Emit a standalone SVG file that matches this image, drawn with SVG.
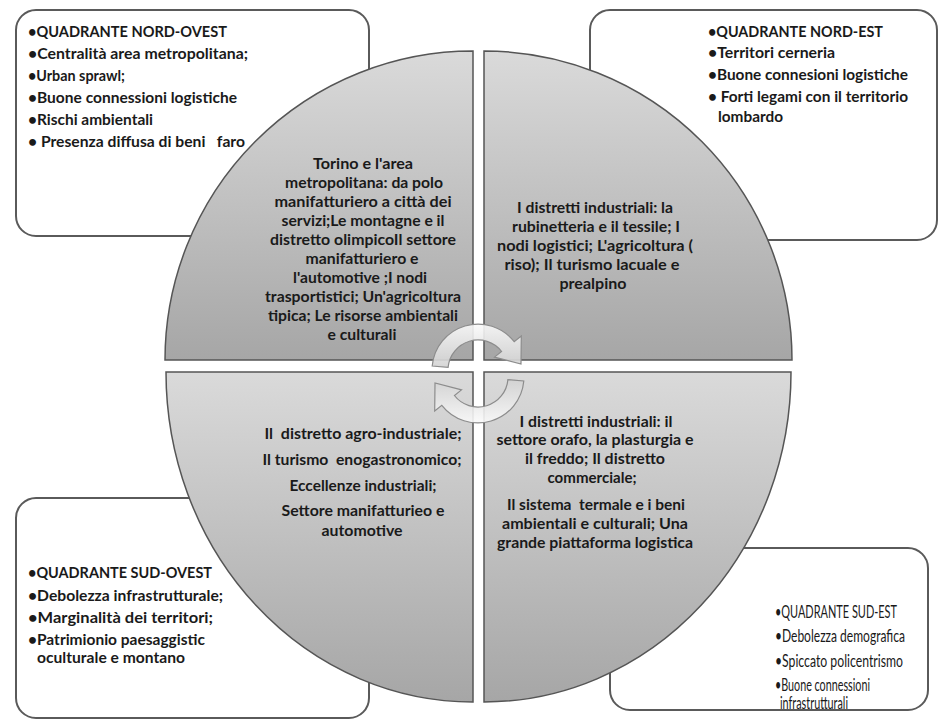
<svg xmlns="http://www.w3.org/2000/svg" width="943" height="720" viewBox="0 0 943 720">
<style>
.box{fill:#fff;stroke:#5a5a5a;stroke-width:2}
.quad{fill:url(#qg);stroke:#555;stroke-width:1.5}
.t{font-family:Lato,"Liberation Sans",sans-serif;font-weight:700;font-size:16px;fill:#1a1a1a}
.q{font-size:15.5px}
.r{font-weight:400;font-size:16.5px}
.m{text-anchor:middle}
.arr{fill:url(#ag);stroke:#8c8c8c;stroke-width:1.2;fill-opacity:0.9}
</style>
<defs>
<linearGradient id="qg" x1="0" y1="0" x2="0" y2="1">
<stop offset="0" stop-color="#dadada"/>
<stop offset="1" stop-color="#a6a6a6"/>
</linearGradient>
<linearGradient id="ag" x1="0" y1="0" x2="0" y2="1">
<stop offset="0" stop-color="#fafafa"/>
<stop offset="1" stop-color="#d2d2d2"/>
</linearGradient>
</defs>
<rect width="943" height="720" fill="#fff"/>

<g id="box-nw">
<rect class="box" x="16" y="10" width="353" height="226" rx="20"/>
<text class="t" x="28" y="37" textLength="199" lengthAdjust="spacingAndGlyphs">•QUADRANTE NORD-OVEST</text>
<text class="t" x="28" y="59" textLength="220" lengthAdjust="spacingAndGlyphs">•Centralità area metropolitana;</text>
<text class="t" x="28" y="81" textLength="97" lengthAdjust="spacingAndGlyphs">•Urban sprawl;</text>
<text class="t" x="28" y="103" textLength="209" lengthAdjust="spacingAndGlyphs">•Buone connessioni logistiche</text>
<text class="t" x="28" y="125" textLength="125" lengthAdjust="spacingAndGlyphs">•Rischi ambientali</text>
<text class="t" x="28" y="147" textLength="217" lengthAdjust="spacingAndGlyphs" xml:space="preserve">• Presenza diffusa di beni   faro</text>
</g>

<g id="box-ne">
<rect class="box" x="590" y="10" width="347" height="230" rx="20"/>
<text class="t" x="708" y="37" textLength="175" lengthAdjust="spacingAndGlyphs">•QUADRANTE NORD-EST</text>
<text class="t" x="708" y="58" textLength="127" lengthAdjust="spacingAndGlyphs">•Territori cerneria</text>
<text class="t" x="708" y="80" textLength="200" lengthAdjust="spacingAndGlyphs">•Buone connesioni logistiche</text>
<text class="t" x="708" y="102" textLength="200" lengthAdjust="spacingAndGlyphs">• Forti legami con il territorio</text>
<text class="t" x="718" y="122" textLength="65" lengthAdjust="spacingAndGlyphs">lombardo</text>
</g>

<g id="box-sw">
<rect class="box" x="16" y="498" width="353" height="220" rx="20"/>
<text class="t" x="28" y="578" textLength="184" lengthAdjust="spacingAndGlyphs">•QUADRANTE SUD-OVEST</text>
<text class="t" x="28" y="601" textLength="195" lengthAdjust="spacingAndGlyphs">•Debolezza infrastrutturale;</text>
<text class="t" x="28" y="623" textLength="185" lengthAdjust="spacingAndGlyphs">•Marginalità dei territori;</text>
<text class="t" x="28" y="645" textLength="177" lengthAdjust="spacingAndGlyphs">•Patrimionio paesaggistic</text>
<text class="t" x="37" y="663" textLength="148" lengthAdjust="spacingAndGlyphs">oculturale e montano</text>
</g>

<g id="box-se">
<rect class="box" x="610" y="548" width="318" height="162" rx="20"/>
<g transform="scale(0.75,1)">
<text class="t r" x="1033.3" y="618" textLength="162.7" lengthAdjust="spacingAndGlyphs">•QUADRANTE SUD-EST</text>
<text class="t r" x="1033.3" y="642" textLength="173.3" lengthAdjust="spacingAndGlyphs">•Debolezza demografica</text>
<text class="t r" x="1033.3" y="667" textLength="170.7" lengthAdjust="spacingAndGlyphs">•Spiccato policentrismo</text>
<text class="t r" x="1033.3" y="691" textLength="126.7" lengthAdjust="spacingAndGlyphs">•Buone connessioni</text>
<text class="t r" x="1040" y="709" textLength="90.7" lengthAdjust="spacingAndGlyphs">infrastrutturali</text>
</g>
</g>

<g id="quad-nw">
<path class="quad" d="M473,360 L165,360 A308,309 0 0 1 473,51 Z"/>
<text class="t q m" x="363" y="169" textLength="100" lengthAdjust="spacingAndGlyphs">Torino e l'area</text>
<text class="t q m" x="364" y="188" textLength="158" lengthAdjust="spacingAndGlyphs">metropolitana: da polo</text>
<text class="t q m" x="363" y="207" textLength="177" lengthAdjust="spacingAndGlyphs">manifatturiero a città dei</text>
<text class="t q m" x="363" y="226" textLength="163" lengthAdjust="spacingAndGlyphs">servizi;Le montagne e il</text>
<text class="t q m" x="363" y="245" textLength="186" lengthAdjust="spacingAndGlyphs">distretto olimpicoIl settore</text>
<text class="t q m" x="362" y="264" textLength="113" lengthAdjust="spacingAndGlyphs">manifatturiero e</text>
<text class="t q m" x="360" y="283" textLength="134" lengthAdjust="spacingAndGlyphs">l'automotive ;I nodi</text>
<text class="t q m" x="363" y="302" textLength="196" lengthAdjust="spacingAndGlyphs">trasportistici; Un'agricoltura</text>
<text class="t q m" x="363" y="321" textLength="190" lengthAdjust="spacingAndGlyphs">tipica; Le risorse ambientali</text>
<text class="t q m" x="362" y="340" textLength="69" lengthAdjust="spacingAndGlyphs">e culturali</text>
</g>

<g id="quad-ne">
<path class="quad" d="M484,360 L484,51 A308,309 0 0 1 792,360 Z"/>
<text class="t q m" x="595" y="213" textLength="156" lengthAdjust="spacingAndGlyphs">I distretti industriali: la</text>
<text class="t q m" x="596" y="232" textLength="168" lengthAdjust="spacingAndGlyphs">rubinetteria e il tessile; I</text>
<text class="t q m" x="595" y="251" textLength="196" lengthAdjust="spacingAndGlyphs">nodi logistici; L'agricoltura (</text>
<text class="t q m" x="592" y="270" textLength="175" lengthAdjust="spacingAndGlyphs">riso); Il turismo lacuale e</text>
<text class="t q m" x="593" y="289" textLength="67" lengthAdjust="spacingAndGlyphs">prealpino</text>
</g>

<g id="quad-sw">
<path class="quad" d="M473,372 L473,702 A307,330 0 0 1 166,372 Z"/>
<text class="t q m" x="363" y="439" textLength="197" lengthAdjust="spacingAndGlyphs" xml:space="preserve">Il  distretto agro-industriale;</text>
<text class="t q m" x="362" y="465" textLength="199" lengthAdjust="spacingAndGlyphs" xml:space="preserve">Il turismo  enogastronomico;</text>
<text class="t q m" x="363" y="491" textLength="147" lengthAdjust="spacingAndGlyphs">Eccellenze industriali;</text>
<text class="t q m" x="363" y="516" textLength="163" lengthAdjust="spacingAndGlyphs">Settore manifatturieo e</text>
<text class="t q m" x="362" y="536" textLength="81" lengthAdjust="spacingAndGlyphs">automotive</text>
</g>

<g id="quad-se">
<path class="quad" d="M484,372 L791,372 A307,330 0 0 1 484,702 Z"/>
<text class="t q m" x="596" y="427" textLength="153" lengthAdjust="spacingAndGlyphs">I distretti industriali: il</text>
<text class="t q m" x="595" y="445" textLength="197" lengthAdjust="spacingAndGlyphs">settore orafo, la plasturgia e</text>
<text class="t q m" x="595" y="464" textLength="140" lengthAdjust="spacingAndGlyphs">il freddo; Il distretto</text>
<text class="t q m" x="592" y="483" textLength="89" lengthAdjust="spacingAndGlyphs">commerciale;</text>
<text class="t q m" x="596" y="510" textLength="178" lengthAdjust="spacingAndGlyphs" xml:space="preserve">Il sistema  termale e i beni</text>
<text class="t q m" x="595" y="529" textLength="186" lengthAdjust="spacingAndGlyphs">ambientali e culturali; Una</text>
<text class="t q m" x="595" y="548" textLength="196" lengthAdjust="spacingAndGlyphs">grande piattaforma logistica</text>
</g>

<g id="connectors">
<path id="arrow-top" class="arr" d="M432.2,366 A46,46 0 0 1 514.2,341.7 L521.3,336.1 L521,364 L494.5,357.1 L501.6,351.5 A30,30 0 0 0 448.1,367.4 Z"/>
<path id="arrow-bottom" class="arr" transform="rotate(180 478 373.5)" d="M432.2,366 A46,46 0 0 1 514.2,341.7 L521.3,336.1 L521,364 L494.5,357.1 L501.6,351.5 A30,30 0 0 0 448.1,367.4 Z"/>
</g>
</svg>
